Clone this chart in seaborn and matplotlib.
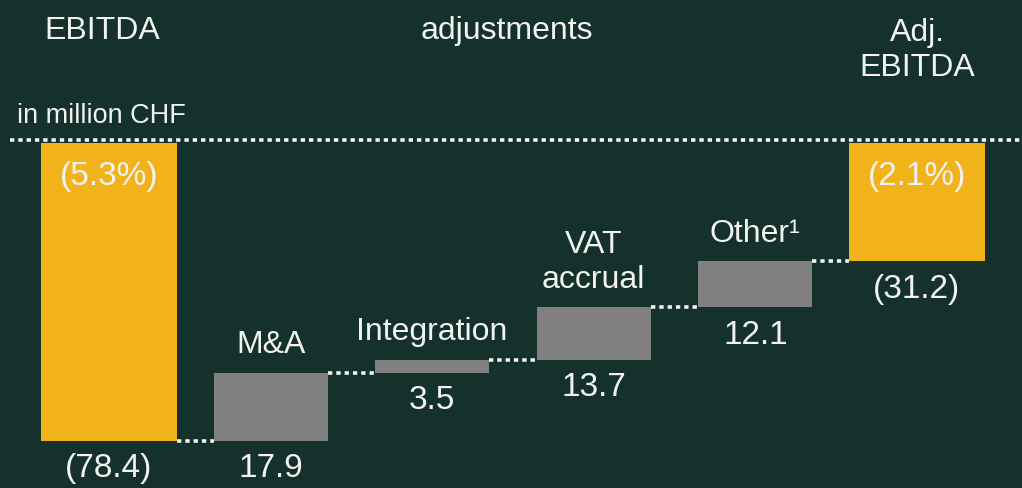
import numpy as np
import matplotlib.pyplot as plt
import seaborn as sns

# values in million CHF
ebitda = -78.4
adj_ebitda = -31.2
adj_names = ["M&A", "Integration", "VAT\naccrual", "Other¹"]
adj_values = [17.9, 3.5, 13.7, 12.1]
total_names = ["EBITDA", "Adj.\nEBITDA"]
margin_labels = ["(5.3%)", "(2.1%)"]

BG = "#14322b"
YELLOW = "#f2b31a"
GREY = "#808080"
TXT = "#f2f2f2"

sns.set_theme(style="dark", rc={"axes.facecolor": BG, "figure.facecolor": BG})
plt.rcParams["font.family"] = ["Liberation Sans", "DejaVu Sans"]

order = [total_names[0]] + adj_names + [total_names[1]]
tot_heights = [ebitda] + [np.nan] * len(adj_names) + [adj_ebitda]

starts = ebitda + np.concatenate([[0], np.cumsum(adj_values)[:-1]])
ends = starts + np.array(adj_values)
adj_pos = np.arange(1, len(adj_names) + 1)
last = len(order) - 1

fig = plt.figure(figsize=(10.22, 4.88), dpi=100)
ax = fig.add_axes([0, 0, 1, 1])

sns.barplot(x=order, y=tot_heights, order=order, color=YELLOW, saturation=1,
            width=0.84, linewidth=0, ax=ax)
ax.bar(adj_pos, adj_values, bottom=starts, width=0.705, color=GREY, linewidth=0)

dots = dict(color=TXT, lw=2.6, dashes=(1.2, 1.1), solid_capstyle="butt",
            dash_capstyle="butt")
ax.axhline(0.7, xmin=0.01, xmax=1, **dots)

# connectors between bars
lefts = [0 + 0.42] + list(adj_pos + 0.3525)
rights = list(adj_pos - 0.3525) + [last - 0.42]
levels = [ebitda] + list(ends)
for x0, x1, y in zip(lefts, rights, levels):
    ax.plot([x0, x1], [y, y], **dots)

lab = dict(color=TXT, ha="center", textcoords="offset points")

# values below the bars
below_x = [0] + list(adj_pos) + [last]
below_y = [ebitda] + list(starts) + [adj_ebitda]
below_v = [ebitda] + adj_values + [adj_ebitda]
for x, y, v in zip(below_x, below_y, below_v):
    s = f"({abs(v):.1f})" if v < 0 else f"{v:.1f}"
    ax.annotate(s, (x, y), xytext=(0, -20), va="center", fontsize=24, **lab)

# names above the adjustment bars
for x, y, name in zip(adj_pos, ends, adj_names):
    ax.annotate(name, (x, y), xytext=(0, 9), va="bottom", fontsize=23,
                linespacing=1.2, **lab)

# margins inside the total bars
for x, m in zip([0, last], margin_labels):
    ax.annotate(m, (x, 0), xytext=(0, -24), va="center", fontsize=24, **lab)

# headers
trans = ax.get_xaxis_transform()
ax.text(-0.04, 0.937, total_names[0], transform=trans, ha="center", va="center",
        fontsize=23, color=TXT)
ax.text(2.46, 0.937, "adjustments", transform=trans, ha="center", va="center",
        fontsize=23, color=TXT)
ax.text(last, 0.897, total_names[1], transform=trans, ha="center", va="center",
        fontsize=23, color=TXT, linespacing=1.2)
ax.text(0.0166, 0.748, "in million CHF", transform=ax.transAxes, ha="left",
        va="baseline", fontsize=19.5, color=TXT)

ax.set_xlim(-0.6745, 5.65)
ax.set_ylim(-90.8, 37.6)
ax.axis("off")

fig.savefig("out.png", dpi=100, facecolor=BG)
